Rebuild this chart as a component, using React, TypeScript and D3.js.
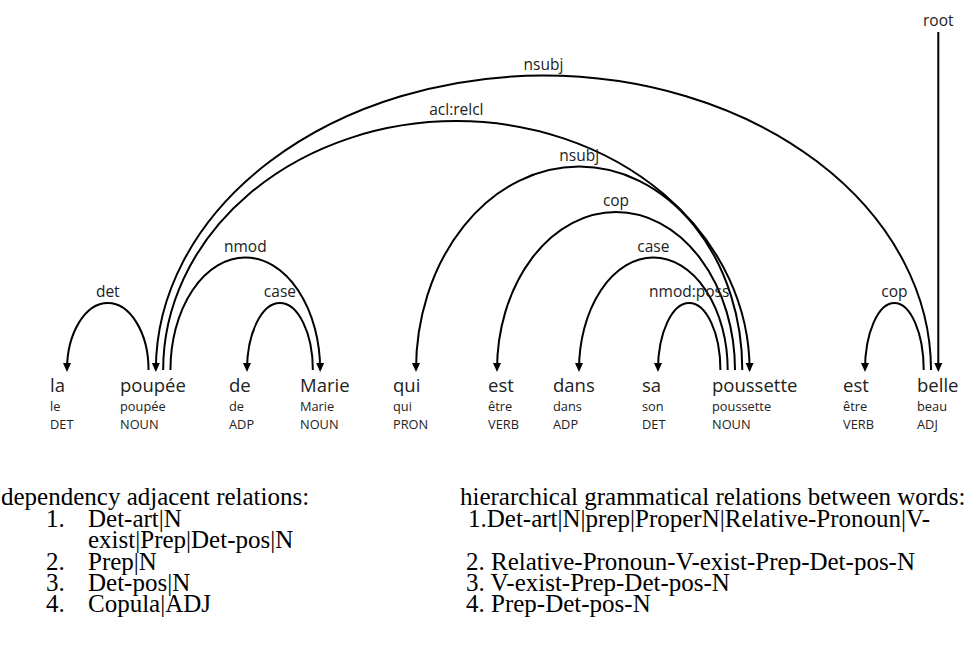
import React from 'react';
import * as d3 from 'd3';

// sentence tokens
const words = ['la', 'poupée', 'de', 'Marie', 'qui', 'est', 'dans', 'sa', 'poussette', 'est', 'belle'];
const lemmas = ['le', 'poupée', 'de', 'Marie', 'qui', 'être', 'dans', 'son', 'poussette', 'être', 'beau'];
const upos = ['DET', 'NOUN', 'ADP', 'NOUN', 'PRON', 'VERB', 'ADP', 'DET', 'NOUN', 'VERB', 'ADJ'];

// dependency arcs (head -> dependent)
const arcHead = [1, 10, 1, 3, 1, 8, 8, 8, 8, 10];
const arcDep = [0, 1, 3, 2, 8, 4, 5, 6, 7, 9];
const arcLabel = ['det', 'nsubj', 'nmod', 'case', 'acl:relcl', 'nsubj', 'cop', 'case', 'nmod:poss', 'cop'];
const rootIndex = 10;
const rootLabel = 'root';

// notes under the tree
const leftTitle = 'dependency adjacent relations:';
const leftNums = ['1.', '', '2.', '3.', '4.'];
const leftItems = ['Det-art|N', 'exist|Prep|Det-pos|N', 'Prep|N', 'Det-pos|N', 'Copula|ADJ'];
const rightTitle = 'hierarchical grammatical relations between words:';
const rightItems = [
    '1.Det-art|N|prep|ProperN|Relative-Pronoun|V-',
    '',
    '2. Relative-Pronoun-V-exist-Prep-Det-pos-N',
    '3. V-exist-Prep-Det-pos-N',
    '4. Prep-Det-pos-N'
];

const width = 964;
const height = 648;
const footY = 370;
const slotGap = 7.3;
const lineGap = 21.3;
const sans = "'Open Sans', 'Noto Sans', sans-serif";
const serif = "'Liberation Serif', 'Times New Roman', serif";

const App: React.FC = () => {
    const idx = d3.range(words.length);
    const x = d3.scaleOrdinal<number, number>().domain(idx)
        .range([50, 120, 229, 300, 393, 488, 553, 642, 712, 843, 917]);
    const anchor = d3.scaleOrdinal<number, number>().domain(idx)
        .range([67, 159.5, 247, 316.5, 416, 497, 579, 658, 735, 865, 931]);

    // arc levels: 1 + highest level nested inside
    const arcs = arcHead.map((h, i) => ({
        i, h, d: arcDep[i], label: arcLabel[i],
        lo: Math.min(h, arcDep[i]), hi: Math.max(h, arcDep[i]), level: 1
    }));
    const bySpan = [...arcs].sort((a, b) => (a.hi - a.lo) - (b.hi - b.lo));
    bySpan.forEach(a => {
        const inner = bySpan.filter(b => b !== a && b.lo >= a.lo && b.hi <= a.hi && (b.hi - b.lo) < (a.hi - a.lo));
        a.level = 1 + (d3.max(inner, b => b.level) ?? 0);
    });
    const maxLevel = d3.max(arcs, a => a.level) as number;
    const top = d3.scaleLinear().domain([1, maxLevel]).range([303, 303 - 45.5 * (maxLevel - 1)]);

    // attachment slots per word
    const slotX = new Map<string, number>();
    idx.forEach(w => {
        const ends: { key: string, left: boolean, span: number, root: boolean }[] = [];
        arcs.forEach(a => {
            if (a.lo === w) ends.push({ key: `${a.i}-${w}`, left: false, span: a.hi - a.lo, root: false });
            if (a.hi === w) ends.push({ key: `${a.i}-${w}`, left: true, span: a.hi - a.lo, root: false });
        });
        if (w === rootIndex) ends.push({ key: `root-${w}`, left: false, span: 0, root: true });
        ends.sort((p, q) => {
            if (p.root !== q.root) return p.root ? 1 : -1;
            if (p.left !== q.left) return p.left ? -1 : 1;
            return p.left ? p.span - q.span : q.span - p.span;
        });
        ends.forEach((e, k) => slotX.set(e.key, anchor(w) + (k - (ends.length - 1) / 2) * slotGap));
    });

    const arrow = (ax: number) => `M${ax},${footY + 2} L${ax - 4},${footY - 7} L${ax + 4},${footY - 7} Z`;
    const rootX = slotX.get(`root-${rootIndex}`) as number;

    return (
        <svg width={width} height={height} style={{ position: 'absolute', left: 0, top: 0 }}>
            <rect width={width} height={height} fill="white" />
            <g fill="none" stroke="#000" strokeWidth="2">
                {arcs.map(a => {
                    const x1 = slotX.get(`${a.i}-${a.lo}`) as number;
                    const x2 = slotX.get(`${a.i}-${a.hi}`) as number;
                    const ry = footY - top(a.level);
                    return <path key={a.i} d={`M${x1},${footY} A${(x2 - x1) / 2},${ry} 0 0 1 ${x2},${footY}`} />;
                })}
                <line x1={rootX} x2={rootX} y1={32} y2={footY} />
            </g>
            <g fill="#000">
                {arcs.map(a => <path key={a.i} d={arrow(slotX.get(`${a.i}-${a.d}`) as number)} />)}
                <path d={arrow(rootX)} />
            </g>
            <g fontFamily={sans} fontSize="15.5" fill="#222" textAnchor="middle">
                {arcs.map(a => {
                    const x1 = slotX.get(`${a.i}-${a.lo}`) as number;
                    const x2 = slotX.get(`${a.i}-${a.hi}`) as number;
                    return <text key={a.i} x={(x1 + x2) / 2} y={top(a.level) - 6}>{a.label}</text>;
                })}
                <text x={rootX} y={26}>{rootLabel}</text>
            </g>
            <g fontFamily={sans} fill="#222">
                {words.map((w, i) => (
                    <g key={i}>
                        <text x={x(i)} y={392} fontSize="18.5">{w}</text>
                        <text x={x(i)} y={411} fontSize="12.8">{lemmas[i]}</text>
                        <text x={x(i)} y={429} fontSize="12.8">{upos[i]}</text>
                    </g>
                ))}
            </g>
            <g fontFamily={serif} fontSize="25" fill="#000">
                <text x={1} y={505}>{leftTitle}</text>
                {leftItems.map((t, i) => (
                    <g key={i}>
                        <text x={46} y={527 + i * lineGap}>{leftNums[i]}</text>
                        <text x={88} y={527 + i * lineGap}>{t}</text>
                    </g>
                ))}
                <text x={460} y={505}>{rightTitle}</text>
                {rightItems.map((t, i) => (
                    <text key={i} x={i === 0 ? 468 : 466} y={527 + i * lineGap}>{t}</text>
                ))}
            </g>
        </svg>
    );
};

export default App;
